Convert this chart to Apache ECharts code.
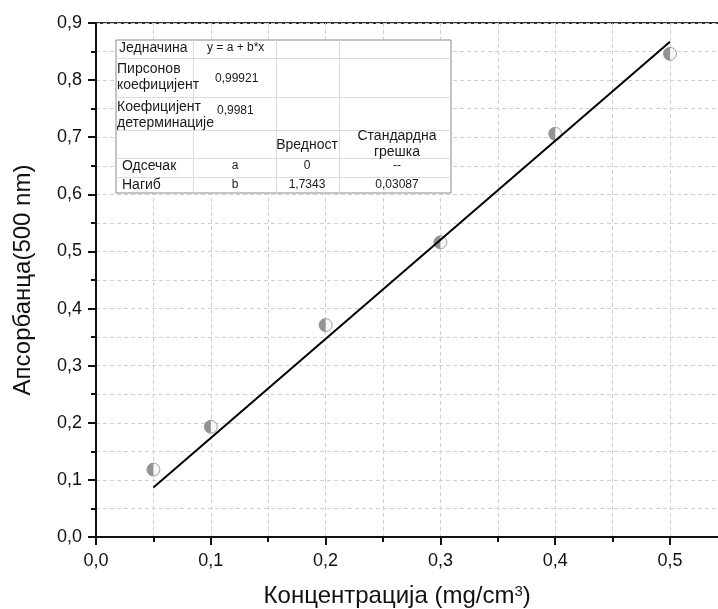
<!DOCTYPE html>
<html>
<head>
<meta charset="utf-8">
<script src="https://cdn.jsdelivr.net/npm/echarts@6/dist/echarts.min.js"></script>
<style>
  html, body { margin: 0; padding: 0; background: #fff; }
  #chart { width: 718px; height: 609px; }
</style>
</head>
<body>
<div id="chart"></div>
<script>
// Measured concentrations and absorbances
const concentration = [0.05, 0.1, 0.2, 0.3, 0.4, 0.5];
const absorbance = [0.118, 0.193, 0.371, 0.516, 0.706, 0.846];

// Linear fit (intercept fixed to zero)
const intercept = 0;
const slope = 1.7343;
const slopeError = 0.03087;
const pearson = '0,99921';
const rSquared = '0,9981';
const fitRange = [0.05, 0.5];

const fitLine = fitRange.map(x => [x, intercept + slope * x]);
const points = concentration.map((x, i) => [x, absorbance[i]]);

const comma = v => String(v).replace('.', ',');
const fmt1 = v => v.toFixed(1).replace('.', ',');

const FONT = '"Liberation Sans", Arial, sans-serif';

// Stats table drawn as graphic elements
const tL = 116, tT = 40, tR = 451, tB = 193;
const colX = [193, 276, 339];
const rowY = [58, 97, 130, 158, 177];

const tableEls = [];
tableEls.push({
  type: 'rect', shape: { x: tL, y: tT, width: tR - tL, height: tB - tT },
  style: { fill: '#fff', stroke: '#8a8a8a', lineWidth: 1 }, z: 10
});
colX.forEach(x => tableEls.push({
  type: 'line', shape: { x1: x + 0.5, y1: tT, x2: x + 0.5, y2: tB },
  style: { stroke: '#dcdcdc', lineWidth: 1 }, z: 11
}));
rowY.forEach(y => tableEls.push({
  type: 'line', shape: { x1: tL, y1: y + 0.5, x2: tR, y2: y + 0.5 },
  style: { stroke: '#dcdcdc', lineWidth: 1 }, z: 11
}));

function cellText(text, x, y, size, align) {
  tableEls.push({
    type: 'text', x: x, y: y, z: 12,
    style: {
      text: text, fill: '#1a1a1a', font: size + 'px ' + FONT,
      textAlign: align || 'left', textVerticalAlign: 'middle'
    }
  });
}
cellText('Једначина', 119, 48, 14);
cellText('y = a + b*x', 207, 48, 12);
cellText('Пирсонов', 117, 69, 14);
cellText('коефицијент', 117, 85, 14);
cellText(pearson, 215, 79, 12);
cellText('Коефицијент', 117, 107, 14);
cellText('детерминације', 117, 123, 14);
cellText(rSquared, 217, 111, 12);
cellText('Вредност', 307, 145, 14, 'center');
cellText('Стандардна', 397, 136, 14, 'center');
cellText('грешка', 397, 152, 14, 'center');
cellText('Одсечак', 122, 166, 14);
cellText('a', 235, 166, 12, 'center');
cellText(comma(intercept), 307, 166, 12, 'center');
cellText('--', 397, 166, 12, 'center');
cellText('Нагиб', 122, 185, 14);
cellText('b', 235, 185, 12, 'center');
cellText(comma(slope), 307, 185, 12, 'center');
cellText(comma(slopeError), 397, 185, 12, 'center');

const gridDash = { show: true, lineStyle: { color: '#d0d0d0', type: [4, 3], width: 1 } };

const chart = echarts.init(document.getElementById('chart'), null, { renderer: 'canvas' });
chart.setOption({
  animation: false,
  backgroundColor: '#fff',
  grid: {
    left: 96, top: 23, width: 631.4, height: 514,
    containLabel: false, outerBoundsMode: 'none',
    show: true, borderColor: '#333', borderWidth: 2, backgroundColor: 'transparent'
  },
  xAxis: {
    type: 'value', min: 0, max: 0.55, interval: 0.1,
    name: 'Концентрација (mg/cm{sup|3})',
    nameLocation: 'middle', nameGap: 47,
    nameTextStyle: {
      fontFamily: FONT, fontSize: 24, color: '#111', padding: [0, 29, 0, 0],
      rich: { sup: { fontFamily: FONT, fontSize: 15, color: '#111', verticalAlign: 'top', padding: [0, 0, 10, 0] } }
    },
    axisLine: { show: true, onZero: false, lineStyle: { color: '#111', width: 2 } },
    axisTick: { show: true, length: 8, lineStyle: { color: '#111', width: 2 } },
    minorTick: { show: true, splitNumber: 2, length: 5, lineStyle: { color: '#111', width: 2 } },
    axisLabel: {
      fontFamily: FONT, fontSize: 18, color: '#111', margin: 15,
      formatter: v => (v > 0.5001 ? '' : fmt1(v))
    },
    splitLine: gridDash,
    minorSplitLine: gridDash
  },
  yAxis: {
    type: 'value', min: 0, max: 0.9, interval: 0.1,
    name: 'Апсорбанца(500 nm)',
    nameLocation: 'middle', nameGap: 61,
    nameTextStyle: { fontFamily: FONT, fontSize: 24, color: '#111' },
    axisLine: { show: true, onZero: false, lineStyle: { color: '#111', width: 2 } },
    axisTick: { show: true, length: 8, lineStyle: { color: '#111', width: 2 } },
    minorTick: { show: true, splitNumber: 2, length: 5, lineStyle: { color: '#111', width: 2 } },
    axisLabel: {
      fontFamily: FONT, fontSize: 18, color: '#111', margin: 14,
      formatter: v => fmt1(v)
    },
    splitLine: gridDash,
    minorSplitLine: gridDash
  },
  series: [
    {
      type: 'scatter', data: points, symbol: 'circle', symbolSize: 13,
      itemStyle: { color: '#f4f4f4', borderWidth: 0 }, z: 3, silent: true
    },
    {
      type: 'scatter', data: points,
      symbol: 'path://M10,0 A10,10 0 0 0 10,20 Z',
      symbolSize: [6.5, 13], symbolOffset: [-3.25, 0],
      symbolKeepAspect: false,
      itemStyle: { color: '#7b7b7b', borderWidth: 0 }, z: 4, silent: true
    },
    {
      type: 'scatter', data: points, symbol: 'circle', symbolSize: 13,
      itemStyle: { color: 'rgba(0,0,0,0)', borderColor: '#8c8c8c', borderWidth: 1 }, z: 5, silent: true
    },
    {
      type: 'line', data: fitLine, showSymbol: false, symbol: 'none',
      lineStyle: { color: '#000', width: 2 }, z: 6, silent: true
    }
  ],
  graphic: { elements: tableEls }
});
</script>
</body>
</html>
